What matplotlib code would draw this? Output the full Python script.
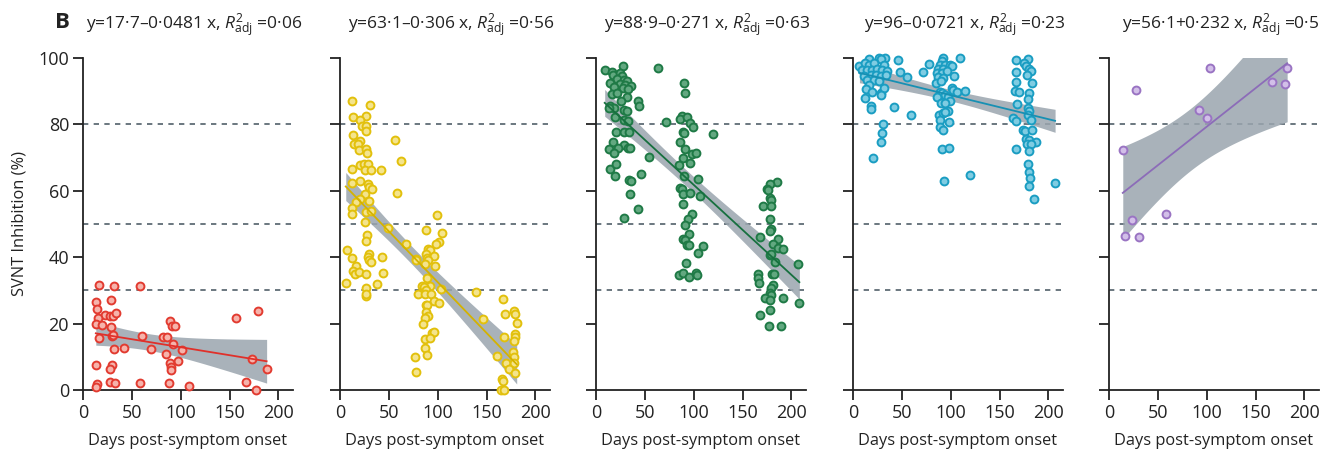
import numpy as np
import matplotlib
matplotlib.use('Agg')
import matplotlib.pyplot as plt

plt.rcParams['font.family'] = ['Open Sans', 'DejaVu Sans']
plt.rcParams['mathtext.fontset'] = 'custom'
plt.rcParams['mathtext.rm'] = 'Open Sans'
plt.rcParams['mathtext.it'] = 'Open Sans:italic'

# ---- data ----
titles = ['y=17·7–0·0481 x, $R^{2}_{\\mathrm{adj}}$ =0·06',
          'y=63·1–0·306 x, $R^{2}_{\\mathrm{adj}}$ =0·56',
          'y=88·9–0·271 x, $R^{2}_{\\mathrm{adj}}$ =0·63',
          'y=96–0·0721 x, $R^{2}_{\\mathrm{adj}}$ =0·23',
          'y=56·1+0·232 x, $R^{2}_{\\mathrm{adj}}$ =0·5']
intercepts = [17.7, 63.1, 88.9, 96.0, 56.1]
slopes = [-0.0481, -0.306, -0.271, -0.0721, 0.232]

days_1 = [16.2, 31.7, 58.6, 13.1, 14.1, 28.3, 22.8, 27.6, 30.3, 33.8, 15.5, 13.4, 19, 28.6,
          15.9, 29.7, 30.7, 31.4, 42, 60, 69.3, 13.4, 30, 27.2, 27.9, 32.8, 14.8, 13.4, 58.6,
          89, 91.4, 94.5, 82, 86.2, 92.4, 85.2, 101, 89, 96.9, 90.3, 89.7, 87.9, 109, 157,
          179, 172.8, 188, 166.6, 177.6]
svnt_1 = [31.5, 31.3, 31.2, 26.6, 24.4, 27.1, 22.5, 22.2, 22.3, 23.3, 21.6, 19.9, 19.7, 19.1,
          15.7, 16.4, 16.6, 12.2, 12.7, 16.4, 12.2, 7.5, 7.5, 6.3, 2.3, 2.1, 1.8, 0.8, 2.0,
          20.9, 19.4, 19.2, 15.9, 16.1, 14.0, 10.8, 11.9, 8.2, 8.6, 6.8, 6.1, 2.2, 1.1, 21.6,
          23.7, 9.3, 6.3, 2.5, 0.1]

days_2 = [12.5, 31.2, 13.5, 27, 20.5, 22.5, 27, 27, 55.8, 12.8, 14.6, 20.1, 18, 19.4, 26.7,
          27.4, 62.4, 12.5, 20.1, 24.9, 28.8, 25.6, 32.2, 41.6, 20.8, 12.5, 28.6, 30.2, 32.3,
          57.9, 26, 30.2, 20.1, 16, 12.5, 11.8, 27, 32.2, 26, 49.6, 27.7, 26.3, 67.2, 7.3,
          30.2, 12.5, 28.4, 30.2, 31.6, 43, 16.6, 13.5, 15.6, 19.4, 26.7, 44.4, 37.4, 5.9, 27,
          26.3, 27,
          99.5, 88.4, 104.7, 100.9, 98.1, 90.1, 91.9, 87.7, 89.1, 96.4, 89.8, 77.3, 77.3, 86.7,
          97.7, 89.1, 84.2, 91.9, 85.8, 88.4, 103.6, 80.1, 87, 92.9, 96.4, 101.2, 88, 89.4,
          88.4, 90.5, 87.3, 84.5, 93.9, 96, 87, 91.9, 87.3, 88.7, 76.3, 77.6, 139, 146.6,
          166.7, 168.8, 178.5, 178.9, 180.9, 179.6, 178.9, 178.2, 167.4, 176.8, 177.8, 161.2,
          170.2, 178.2, 172.6, 179.6, 166, 167, 164.6, 167.8]
svnt_2 = [86.9, 85.9, 82.1, 82.6, 81.3, 79.6, 79.6, 78.1, 75.4, 76.7, 74, 75, 74, 72.3, 72.7,
          71.3, 69.1, 66.6, 67.8, 68.1, 68, 66.3, 66.3, 66.2, 63, 62.2, 62, 61.2, 60.4, 59.4,
          59, 57, 57.4, 56.5, 54.9, 53, 53.5, 53.9, 50.6, 48.8, 46.8, 44.9, 44.1, 42.2, 41.1,
          39.9, 40.1, 39.3, 38.5, 40, 37.2, 35.9, 34.8, 35.4, 34.8, 35.2, 31.9, 32.2, 30.6,
          28.3, 28.8,
          52.6, 48.3, 47.3, 44.5, 44.1, 42.6, 42.3, 41.1, 39.8, 40.3, 39.1, 39.5, 39.1, 37.9,
          37.5, 33.7, 31.4, 31.3, 31, 30, 30.3, 28.8, 28.8, 28.8, 26.9, 26.3, 25.7, 25.7, 23.5,
          22.4, 21.8, 20, 17.3, 17.5, 15.5, 15.8, 12.8, 10.6, 10, 5.5, 29.4, 21.5,
          27.4, 22.8, 23.8, 23, 20.3, 16.9, 15.9, 14.7, 15.9, 11.4, 9.9, 10.3, 8.1, 8.1, 6.3,
          5, 3.2, 2.8, 0.1, 0.1]

days_3 = [8.9, 16.5, 27.8, 63.5, 17.5, 25, 27.1, 21, 28.5, 31.9, 14.8, 24.4, 29.5, 36, 18.2,
          27.4, 32.9, 16.5, 21.6, 31.9, 26.1, 43.2, 43.9, 14.1, 18.2, 13, 28.5, 31.9, 19.2,
          28.5, 32.6, 72, 20.9, 28.5, 33.6, 17.5, 28.5, 32.9, 35.3, 13, 22.3, 18.2, 53.9, 14.4,
          20.2, 19.9, 46.3, 33.6, 36, 35.3, 42.9, 28.8,
          90.6, 91.3, 88.2, 85.5, 93.1, 96.4, 99.2, 88.9, 90.6, 119.7, 86.5, 91.3, 98.5, 102.6,
          89.5, 96.7, 85.1, 90.6, 104.6, 85.8, 88.2, 89.2, 96.7, 106, 89.5, 98.1, 94.7, 91.3,
          95.4, 89.2, 91.6, 93, 95.4, 109.4, 104.6, 91.9, 84.7, 88.9, 95, 102.2, 102.9,
          185.6, 177.7, 175, 176, 178.4, 178.7, 170.8, 178.7, 178.4, 179.4, 178.4, 167.4,
          186.3, 181.1, 186.3, 191.4, 177.7, 179.4, 182.8, 206.9, 165.7, 165.7, 166.7, 180.1,
          181.8, 181.1, 179.4, 178.4, 178.7, 173.2, 177.7, 191.4, 208.2, 168.1, 178.4, 177, 189]
svnt_3 = [96.5, 95.8, 97.5, 97.1, 94.8, 95.5, 94.5, 93.7, 93.5, 93, 92.4, 92.1, 91.9, 91.6,
          91.4, 90.9, 90.6, 89.2, 89.4, 88.4, 86.9, 86.9, 85.6, 85.6, 84.9, 84.9, 84.2, 83.9,
          82.2, 81.4, 80.9, 80.6, 77.7, 77.7, 77.7, 74.8, 73.8, 72.8, 72.8, 72.6, 72.8, 71.5,
          70.1, 66.6, 68.1, 64.5, 65.2, 63.4, 62.9, 58.9, 54.6, 51.9,
          92.6, 89.4, 82.4, 81.7, 82.2, 80.4, 79.1, 77.6, 77.5, 77.2, 74.8, 72.7, 71.1, 71.3,
          70, 68.3, 67.8, 64.5, 63.6, 60.9, 60.4, 58.9, 59.4, 58.5, 55.9, 53, 51.4, 49.8, 47.1,
          45.4, 45.1, 43.8, 43.8, 43.5, 41.3, 38.4, 34.5, 35.3, 34, 35.3, 34.5,
          62.5, 61.9, 60.5, 60.2, 57.9, 57.2, 55.5, 55.5, 51.5, 48.6, 47.9, 46.1, 45.6, 43.9,
          42.8, 42.6, 40.8, 41.1, 38.6, 38.1, 35, 33.8, 32.3, 35, 35, 31.7, 30.7, 29.3, 28.5,
          27.7, 27.2, 27.7, 26.2, 22.7, 24, 19.2, 19.2]

days_4 = [6.6, 16.3, 26.6, 32.9, 28.4, 11.8, 16.3, 21.5, 31.8, 9.3, 14.5, 19.7, 24.9, 30, 35.3,
          11.1, 18, 23.2, 28.4, 33.6, 14.5, 21.5, 26.6, 16.3, 12.8, 19.7, 28.4, 31.8, 11.8, 18,
          18.7, 28.4, 31.1, 30.1, 28.4, 20.1, 46.4, 47.8, 55, 42.2, 59.5, 71.3, 78.2, 109.7,
          92.4, 90.7, 88.9, 94.1, 99.3, 87.2, 92.4, 101, 85.5, 90.7, 95.8, 87.2, 92.4, 103.4,
          84.8, 90, 88.9, 90.7, 94.1, 85.5, 101, 102.8, 106.2, 114.2, 96.9, 99.3, 90, 94.1,
          96.9, 88.2, 92.4, 94.1, 89.3, 98.3, 89.3, 92.4, 91.3, 98.6, 120.1, 93.4,
          167.1, 179.6, 175.4, 177.2, 180.6, 182.4, 167.1, 178.2, 166.8, 183, 166.1, 169.6, 180,
          178.9, 167.8, 179.6, 180.6, 179.6, 182.4, 164, 166.8, 174.4, 176.5, 183.4, 177.2, 180,
          186.9, 177.9, 182.4, 166.8, 180.6, 178.9, 180.6, 181.3, 180.6, 185.1, 206.9]
svnt_4 = [97.5, 99.8, 100, 100, 99.7, 98.5, 98, 98.5, 98, 96.5, 96.3, 96.5, 96.7, 96.5, 96,
          94.7, 95, 95, 94.5, 95, 93.5, 93.5, 93, 91.9, 90.6, 89.9, 89.4, 90.9, 87.9, 85.4,
          84.7, 88.9, 80.2, 77.3, 74.8, 69.8, 99.5, 95.9, 94.4, 85.1, 82.7, 95.7, 98.3, 100,
          100, 99, 98, 98, 98, 96.7, 96.7, 97.5, 95.5, 95.5, 96, 94.3, 94, 94.7, 92.6, 93,
          89.9, 89.4, 88.9, 88.4, 90.9, 90.4, 89.9, 90.2, 88.4, 86.9, 86.4, 86.4, 84.1, 82.9,
          83.4, 83.6, 81.4, 80.6, 79.2, 78.3, 72.5, 72.8, 64.8, 63.1,
          99.5, 99.8, 98.5, 97.5, 96.7, 96, 95.7, 95, 92.9, 92.6, 90.1, 89.9, 89.4, 87.6, 86.2,
          84.9, 83.9, 82.9, 81.4, 81.9, 81.1, 78.3, 78.1, 78.3, 75.7, 75.3, 74.8, 74.1, 74.1,
          72.6, 72, 68, 65.8, 63.9, 61.5, 57.4, 62.2]

days_5 = [14.1, 27.9, 103.8, 182.4, 167.2, 180.3, 92.1, 100, 57.9, 23.8, 15.9, 31]
svnt_5 = [72.2, 90.3, 97, 97.1, 92.8, 92.3, 84.3, 81.9, 52.9, 51.1, 46.5, 46.1]

edge_colors = ['#e23b30', '#e2c00c', '#1f7a46', '#1a9dc2', '#9a74c3']
face_colors = ['#f6b3ab', '#f4e48c', '#62a880', '#7fcce2', '#d2bfe8']
line_colors = ['#e0302a', '#d4b200', '#17703f', '#1790b3', '#8c6cb8']
thresholds = [30, 50, 80]


def fit_band(x, y, a, b, grid):
    # confidence band around the published fit, spread from the residuals
    x = np.asarray(x)
    y = np.asarray(y)
    n = len(x)
    resid = y - (a + b * x)
    s = np.sqrt(np.sum(resid ** 2) / (n - 2))
    sxx = np.sum((x - x.mean()) ** 2)
    t = 1.96 + 2.4 / (n - 2)
    half = t * s * np.sqrt(1.0 / n + (grid - x.mean()) ** 2 / sxx)
    fit = a + b * grid
    return fit, fit - half, fit + half


def main():
    fig = plt.figure(figsize=(13.31, 4.5), dpi=100)
    lefts = [83, 340, 596, 853, 1109]
    days = [days_1, days_2, days_3, days_4, days_5]
    svnt = [svnt_1, svnt_2, svnt_3, svnt_4, svnt_5]

    for i in range(5):
        ax = fig.add_axes([lefts[i] / 1331, 60 / 450, 210 / 1331, 332 / 450])
        x = np.asarray(days[i])
        y = np.asarray(svnt[i])

        for th in thresholds:
            ax.axhline(th, color='#52606a', lw=1.2, ls=(0, (3.2, 3.2)), zorder=1)

        grid = np.linspace(x.min(), x.max(), 200)
        fit, lo, hi = fit_band(x, y, intercepts[i], slopes[i], grid)
        ax.fill_between(grid, lo, hi, color='#9aa5ae', alpha=0.85, lw=0, zorder=2)
        ax.scatter(x, y, s=32, facecolor=face_colors[i], edgecolor=edge_colors[i],
                   linewidth=1.4, zorder=3, clip_on=False)
        ax.plot(grid, fit, color=line_colors[i], lw=1.3, zorder=4)

        ax.set_xlim(0, 215)
        ax.set_ylim(0, 100)
        ax.set_xticks([0, 50, 100, 150, 200])
        ax.set_yticks([0, 20, 40, 60, 80, 100])
        for side in ['top', 'right']:
            ax.spines[side].set_visible(False)
        for side in ['left', 'bottom']:
            ax.spines[side].set_linewidth(1.3)
            ax.spines[side].set_color('#222222')
        ax.tick_params(direction='out', length=7, width=1.3, color='#222222',
                       labelsize=13, labelcolor='#222222', pad=3)
        if i > 0:
            ax.set_yticklabels([])
        else:
            ax.set_ylabel('SVNT Inhibition (%)', fontsize=11.8, color='#222222', labelpad=8)
        ax.set_xlabel('Days post-symptom onset', fontsize=11.8, color='#222222', labelpad=8)
        ax.text(0.53, 1.1, titles[i], transform=ax.transAxes, ha='center', va='center',
                fontsize=12.5, color='#222222')

    fig.text(62 / 1331, 1 - 22 / 450, 'B', fontsize=16, fontweight='bold',
             ha='center', va='center', color='#222222')
    fig.savefig('out.png', dpi=100)


if __name__ == '__main__':
    main()
